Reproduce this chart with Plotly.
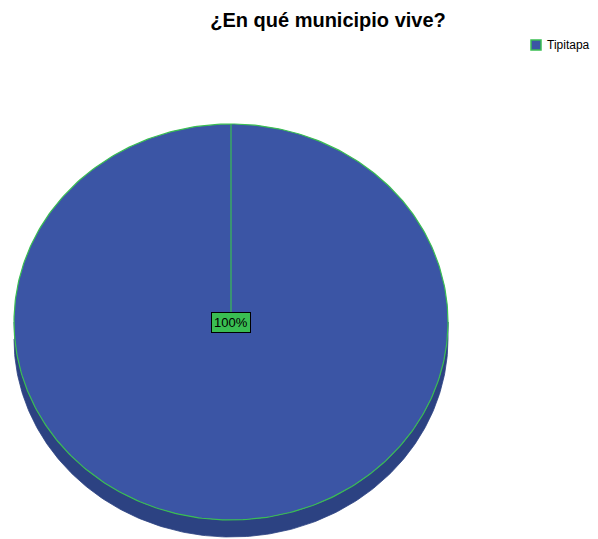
import numpy as np
import plotly.graph_objects as go

# Survey answers: municipality of residence
municipios = ["Tipitapa"]
frecuencias = [100]

title_text = "¿En qué municipio vive?"

# pie geometry in pixel space (axes map 1:1 to pixels)
W, H = 598, 539
cx, cy = 231, 322          # centre of the top face
rx, ry = 217, 198          # radii of the elliptical top face
depth = 17                 # thickness of the 3D rim

blue = "rgb(59,85,165)"
blue_dark = "rgb(44,66,130)"
green = "rgb(58,190,82)"
font_family = "Liberation Sans, Arial"

total = sum(frecuencias)
fracs = [v / total for v in frecuencias]

fig = go.Figure()

# side rim (front half of the ellipse pushed down by the depth)
t = np.linspace(np.pi, 2 * np.pi, 200)
rim_x = np.concatenate([cx + rx * np.cos(t), (cx + rx * np.cos(t))[::-1]])
rim_y = np.concatenate([cy - ry * np.sin(t) + depth, (cy - ry * np.sin(t))[::-1]])
fig.add_trace(go.Scatter(x=rim_x, y=rim_y, fill="toself", mode="lines",
                         line=dict(color=blue_dark, width=0.8),
                         fillcolor=blue_dark, hoverinfo="skip", showlegend=False))

# slices on the top face, starting at 12 o'clock, clockwise
start = np.pi / 2
for name, f in zip(municipios, fracs):
    a = np.linspace(start, start - 2 * np.pi * f, 400)
    xs = np.concatenate([[cx], cx + rx * np.cos(a), [cx]])
    ys = np.concatenate([[cy], cy - ry * np.sin(a), [cy]])
    fig.add_trace(go.Scatter(x=xs, y=ys, fill="toself", mode="lines",
                             line=dict(color=green, width=1.2),
                             fillcolor=blue, name=name, hoverinfo="skip",
                             showlegend=False))
    mid = start - np.pi * f
    lx = cx if f >= 1 else cx + 0.6 * rx * np.cos(mid)
    ly = cy if f >= 1 else cy - 0.6 * ry * np.sin(mid)
    fig.add_annotation(x=lx, y=ly, text=f"{f * 100:.0f}%", showarrow=False,
                       font=dict(family=font_family, size=13, color="black"),
                       bgcolor=green, bordercolor="black", borderwidth=1, borderpad=2)
    start -= 2 * np.pi * f

# legend: coloured swatch plus category name, top right
for i, name in enumerate(municipios):
    y0 = 40 + i * 16
    fig.add_shape(type="rect", xref="x", yref="y", x0=531, x1=541, y0=y0, y1=y0 + 10,
                  fillcolor=blue, line=dict(color=green, width=1.5))
    fig.add_annotation(x=545, y=y0 + 5, text=name, showarrow=False,
                       xanchor="left", yanchor="middle",
                       font=dict(family=font_family, size=12, color="black"))

fig.update_layout(
    width=W, height=H,
    margin=dict(l=0, r=0, t=0, b=0),
    paper_bgcolor="white", plot_bgcolor="white",
    title=dict(text=f"<b>{title_text}</b>", x=328 / W, xanchor="center",
               y=1 - 20 / H, yanchor="middle",
               font=dict(family=font_family, size=20, color="black")),
    xaxis=dict(range=[0, W], visible=False, fixedrange=True),
    yaxis=dict(range=[H, 0], visible=False, fixedrange=True),
    showlegend=False,
)

fig.write_html("out.html")
